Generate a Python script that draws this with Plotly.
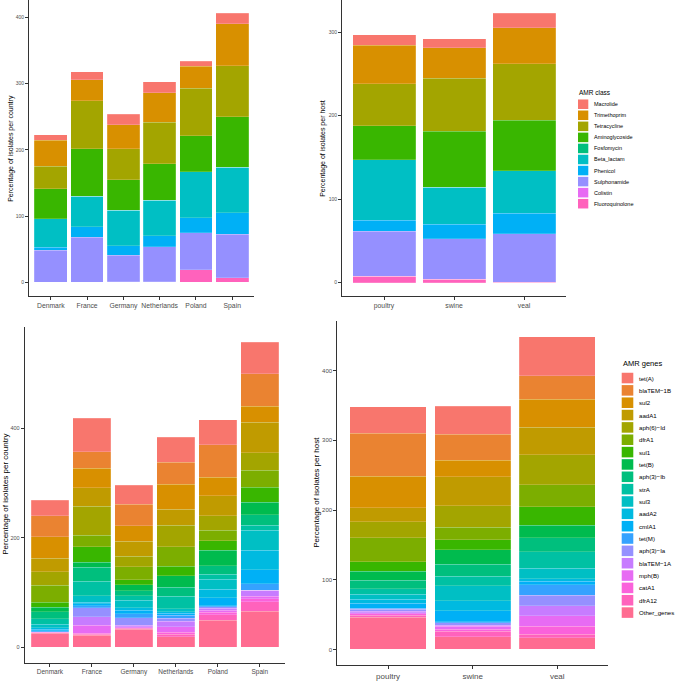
import plotly.graph_objects as go

# ---------------- data ----------------
countries = ["Denmark", "France", "Germany", "Netherlands", "Poland", "Spain"]
hosts = ["poultry", "swine", "veal"]

amr_classes = ["Macrolide", "Trimethoprim", "Tetracycline", "Aminoglycoside", "Fosfomycin",
               "Beta_lactam", "Phenicol", "Sulphonamide", "Colistin", "Fluoroquinolone"]
class_colors = ["#F8766D", "#D89000", "#A3A500", "#39B600", "#00BF7D",
                "#00BFC4", "#00B0F6", "#9590FF", "#E76BF3", "#FF62BC"]

# class percentages per country (order of countries)
class_country = {
    "Macrolide":       [8.5, 12, 16, 16.5, 7.5, 15.5],
    "Trimethoprim":    [39.5, 32, 36, 44.5, 33, 63.5],
    "Tetracycline":    [34, 72, 47, 63, 72, 77],
    "Aminoglycoside":  [45, 72, 46.5, 55.5, 54, 76],
    "Fosfomycin":      [0, 0, 0, 0, 0, 0],
    "Beta_lactam":     [43, 46, 53, 53, 69.5, 69],
    "Phenicol":        [5, 16, 14.5, 16.5, 22.5, 32.5],
    "Sulphonamide":    [48, 68, 40, 53, 56, 66],
    "Colistin":        [0, 0, 0, 0, 0, 0],
    "Fluoroquinolone": [0, 0, 1, 1, 19, 6.5],
}
# class percentages per host (poultry, swine, veal)
class_host = {
    "Macrolide":       [12.4, 10.7, 17],
    "Trimethoprim":    [46, 36.5, 43],
    "Tetracycline":    [50.4, 63.5, 67.5],
    "Aminoglycoside":  [41, 67, 61],
    "Fosfomycin":      [0, 0, 0],
    "Beta_lactam":     [72, 44.5, 50.4],
    "Phenicol":        [13, 17, 24.6],
    "Sulphonamide":    [54, 48.8, 58.2],
    "Colistin":        [0, 0, 0],
    "Fluoroquinolone": [7.9, 4, 0.5],
}

amr_genes = ["tet(A)", "blaTEM\u22121B", "sul2", "aadA1", "aph(6)\u2212Id", "dfrA1", "sul1", "tet(B)",
             "aph(3)\u2212Ib", "strA", "sul3", "aadA2", "cmlA1", "tet(M)", "aph(3)\u2212Ia",
             "blaTEM\u22121A", "mph(B)", "catA1", "dfrA12", "Other_genes"]
gene_colors = ["#F8766D", "#EA8331", "#D89000", "#C09B00", "#A3A500", "#7CAE00", "#39B600",
               "#00BB4E", "#00BF7D", "#00C1A3", "#00BFC4", "#00BAE0", "#00B0F6", "#35A2FF",
               "#9590FF", "#C77CFF", "#E76BF3", "#FA62DB", "#FF62BC", "#FF6C91"]

gene_country = [
    [28, 61, 34.5, 46, 45.5, 57],      # tet(A)
    [39, 30, 39, 40.5, 60, 60],        # blaTEM-1B
    [39, 36, 29, 45.5, 34, 29],        # sul2
    [25, 34, 27, 28.5, 36, 56],        # aadA1
    [24, 53, 19, 40, 26.5, 31.5],      # aph(6)-Id
    [31.5, 21, 24, 35, 19.5, 31],      # dfrA1
    [9, 28, 9, 17.5, 17, 27],          # sul1
    [8, 9, 11, 21, 28.5, 23.5],        # tet(B)
    [13, 26, 9, 17, 15, 19],           # aph(3)-Ib
    [10, 26, 8.5, 22, 10, 9],          # strA
    [6, 12, 14, 6, 18, 37],            # sul3
    [3, 2.5, 4, 3, 15, 35],            # aadA2
    [2.5, 4, 6.5, 3, 15, 26],          # cmlA1
    [2, 4, 7, 6, 2, 12],               # tet(M)
    [0.5, 16, 14, 5, 2.5, 0],          # aph(3)-Ia
    [0, 16, 2.5, 10, 3.5, 11],         # blaTEM-1A
    [0.8, 14, 2, 10, 4, 4],            # mph(B)
    [0.5, 2, 1, 4, 4, 6],              # catA1
    [1, 2, 2, 5, 10, 17],              # dfrA12
    [26, 22, 33, 19, 50, 66],          # Other_genes
]
gene_host = [
    [38, 40.5, 56],      # tet(A)
    [62, 37, 33.5],      # blaTEM-1B
    [45.5, 23.5, 40],    # sul2
    [20, 42, 39.5],      # aadA1
    [22.5, 31, 43],      # aph(6)-Id
    [35, 17.5, 32],      # dfrA1
    [13, 14.5, 26],      # sul1
    [13, 20.5, 18],      # tet(B)
    [12.5, 17.5, 20.5],  # aph(3)-Ib
    [7.5, 13.5, 23.5],   # strA
    [7.5, 21.5, 15],     # sul3
    [5.5, 14.5, 3.5],    # aadA2
    [7.5, 15.5, 5.5],    # cmlA1
    [1.5, 2, 15],        # tet(M)
    [2.5, 3, 15],        # aph(3)-Ia
    [2, 2, 14.5],        # blaTEM-1A
    [2, 4, 15],          # mph(B)
    [2, 3, 11],          # catA1
    [2.5, 7.5, 5],       # dfrA12
    [46.5, 18.5, 17],    # Other_genes
]

tl_ticks = [0, 100, 200, 300, 400]
tr_ticks = [0, 100, 200, 300]
bl_ticks = [0, 200, 400]
br_ticks = [0, 100, 200, 300, 400]

# ---------------- layout helpers ----------------
W, H = 676, 681
def fx(x):
    return x / W
def fy(y):
    return 1 - y / H

FONT = "Liberation Sans, Arial, Helvetica, sans-serif"
fig = go.Figure()

def add_stack(xa, ya, cats, names, values, colors):
    # bottom of the stack is the last legend entry
    for name, vals, col in reversed(list(zip(names, values, colors))):
        fig.add_trace(go.Bar(x=cats, y=vals, name=name, marker_color=col,
                             marker_line_color="rgba(255,255,255,0.45)", marker_line_width=0.4,
                             xaxis=xa, yaxis=ya, showlegend=False))

add_stack("x", "y", countries, amr_classes, [class_country[c] for c in amr_classes], class_colors)
add_stack("x2", "y2", hosts, amr_classes, [class_host[c] for c in amr_classes], class_colors)
add_stack("x3", "y3", countries, amr_genes, gene_country, gene_colors)
add_stack("x4", "y4", hosts, amr_genes, gene_host, gene_colors)

def xaxis(dom, anchor, n, size):
    return dict(domain=[fx(dom[0]), fx(dom[1])], anchor=anchor, type="category",
                range=[-0.6, n - 0.4], showline=True, linecolor="#333333", linewidth=1,
                ticks="outside", ticklen=3, tickcolor="#333333", showgrid=False,
                zeroline=False, tickfont=dict(family=FONT, size=size, color="#4D4D4D"))

def yaxis(dom, anchor, rng, ticks, size):
    return dict(domain=[fy(dom[1]), fy(dom[0])], anchor=anchor, range=rng,
                showline=True, linecolor="#333333", linewidth=1, ticks="outside", ticklen=3,
                tickcolor="#333333", showgrid=False, zeroline=False, tickvals=ticks,
                tickfont=dict(family=FONT, size=size, color="#4D4D4D"))

fig.update_layout(
    width=W, height=H, margin=dict(l=0, r=0, t=0, b=0),
    paper_bgcolor="white", plot_bgcolor="white", barmode="stack", bargap=0.1,
    showlegend=False, font=dict(family=FONT),
    xaxis=xaxis((29, 254), "y", 6, 6.8),
    yaxis=yaxis((0, 297), "x", [-20.3, 426.3], tl_ticks, 5),
    xaxis2=xaxis((342, 566), "y2", 3, 6.8),
    yaxis2=yaxis((0, 297.5), "x2", [-16.1, 338.3], tr_ticks, 5),
    xaxis3=xaxis((24.7, 285), "y3", 6, 6.5),
    yaxis3=yaxis((328, 665.6), "x3", [-27.9, 585.9], bl_ticks, 5.5),
    xaxis4=xaxis((337.3, 608), "y4", 3, 8),
    yaxis4=yaxis((322.6, 668), "x4", [-22.4, 471], br_ticks, 6),
)

ann = []
shapes = []
def ytitle(x, y, text, size):
    ann.append(dict(x=fx(x), y=fy(y), xref="paper", yref="paper", text=text, showarrow=False,
                    textangle=-90, xanchor="center", yanchor="middle",
                    font=dict(family=FONT, size=size, color="black")))

ytitle(11, 149.5, "Percentage of isolates per country", 7)
ytitle(323, 149.5, "Percentage of isolates per host", 7)
ytitle(6, 497, "Percentage of isolates per country", 8)
ytitle(317, 495, "Percentage of isolates per host", 8)

def legend(title, names, colors, tx, ty, kx0, kx1, first_c, step, kh, textx, tsize, isize):
    ann.append(dict(x=fx(tx), y=fy(ty), xref="paper", yref="paper", text=title, showarrow=False,
                    xanchor="left", yanchor="middle", font=dict(family=FONT, size=tsize, color="black")))
    for i, (nm, col) in enumerate(zip(names, colors)):
        c = first_c + i * step
        shapes.append(dict(type="rect", xref="paper", yref="paper", x0=fx(kx0), x1=fx(kx1),
                           y0=fy(c + kh / 2), y1=fy(c - kh / 2), fillcolor=col, line=dict(width=0)))
        ann.append(dict(x=fx(textx), y=fy(c), xref="paper", yref="paper", text=nm, showarrow=False,
                        xanchor="left", yanchor="middle",
                        font=dict(family=FONT, size=isize, color="black")))

legend("AMR class", amr_classes, class_colors, 577, 92.7, 578, 588.3, 104.7, 11.1, 9.6, 592, 6.5, 5.5)
legend("AMR genes", amr_genes, gene_colors, 621, 365, 621.7, 633.3, 379.7, 12.4, 10.6, 636.5, 7.5, 6.1)

fig.update_layout(annotations=ann, shapes=shapes)
fig.write_html("out.html", config={"displayModeBar": False},
               post_script="document.body.style.margin='0';document.body.style.padding='0';")
